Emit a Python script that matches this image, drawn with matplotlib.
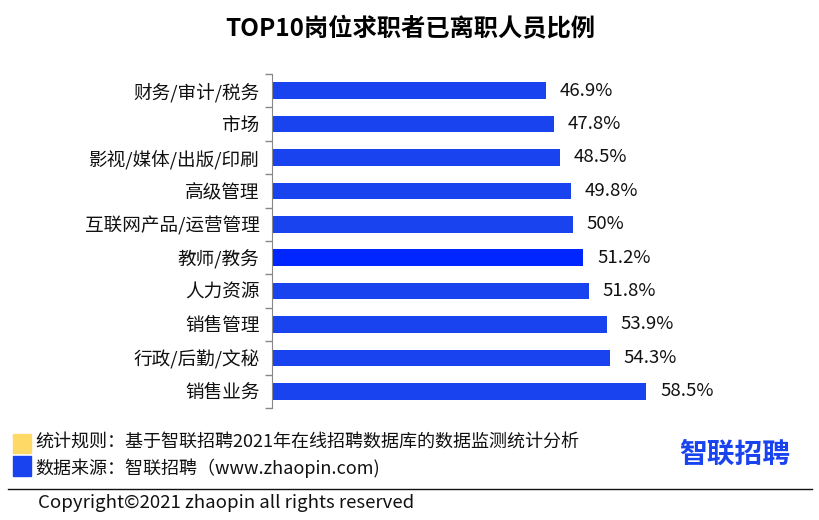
import numpy as np
import matplotlib.pyplot as plt
from matplotlib.patches import Rectangle
from matplotlib.lines import Line2D

plt.rcParams['font.family'] = ['Noto Sans CJK SC', 'DejaVu Sans']

# 数据
jobs = ["财务/审计/税务", "市场", "影视/媒体/出版/印刷", "高级管理", "互联网产品/运营管理",
        "教师/教务", "人力资源", "销售管理", "行政/后勤/文秘", "销售业务"]
ratio = [46.9, 47.8, 48.5, 49.8, 50, 51.2, 51.8, 53.9, 54.3, 58.5]
labels = ["46.9%", "47.8%", "48.5%", "49.8%", "50%", "51.2%", "51.8%", "53.9%", "54.3%", "58.5%"]

blue = "#1a43f0"
colors = [blue] * len(jobs)
colors[5] = "#0026ff"
fs = 13.4

fig = plt.figure(figsize=(8.2, 5.2), dpi=100)
ax = fig.add_axes([0.3317, 0.2154, 0.6195, 0.6423])

y = np.arange(len(jobs))
ax.barh(y, ratio, height=0.5, color=colors, left=0)
ax.set_xlim(15.1, 74.0)
ax.set_ylim(len(jobs) - 0.5, -0.5)

for yi, v, lab in zip(y, ratio, labels):
    ax.text(v + 1.6, yi, lab, va="center", ha="left", fontsize=fs, color="#111111")

ax.set_yticks(y)
ax.set_yticklabels(jobs, fontsize=fs, color="#111111")
ax.tick_params(axis="y", which="major", length=0, pad=9)
ax.set_yticks(np.arange(-0.5, len(jobs), 1), minor=True)
ax.tick_params(axis="y", which="minor", length=5, color="#888888", width=1)
ax.set_xticks([])
for s in ["top", "right", "bottom"]:
    ax.spines[s].set_visible(False)
ax.spines["left"].set_color("#888888")

fig.text(0.5, 0.945, "TOP10岗位求职者已离职人员比例", ha="center", va="center",
         fontsize=17.5, fontweight="bold")

# 脚注
fig.patches.append(Rectangle((13 / 820, 1 - 453 / 520), 18 / 820, 19 / 520,
                             transform=fig.transFigure, color="#ffd966"))
fig.patches.append(Rectangle((13 / 820, 1 - 476 / 520), 18 / 820, 20 / 520,
                             transform=fig.transFigure, color=blue))
fig.text(35 / 820, 1 - 442 / 520, "统计规则：基于智联招聘2021年在线招聘数据库的数据监测统计分析",
         fontsize=13, va="center", color="#111111")
fig.text(35 / 820, 1 - 468 / 520, "数据来源：智联招聘（www.zhaopin.com)",
         fontsize=13, va="center", color="#111111")
fig.lines.append(Line2D([8 / 820, 812 / 820], [1 - 489 / 520, 1 - 489 / 520],
                        transform=fig.transFigure, color="#111111", lw=1))
fig.text(38 / 820, 1 - 503 / 520, "Copyright©2021 zhaopin all rights reserved",
         fontsize=fs, va="center", color="#111111")
fig.text(735 / 820, 1 - 455 / 520, "智联招聘", fontsize=20, fontweight="bold",
         ha="center", va="center", color=blue)

fig.savefig("out.png", dpi=100)
